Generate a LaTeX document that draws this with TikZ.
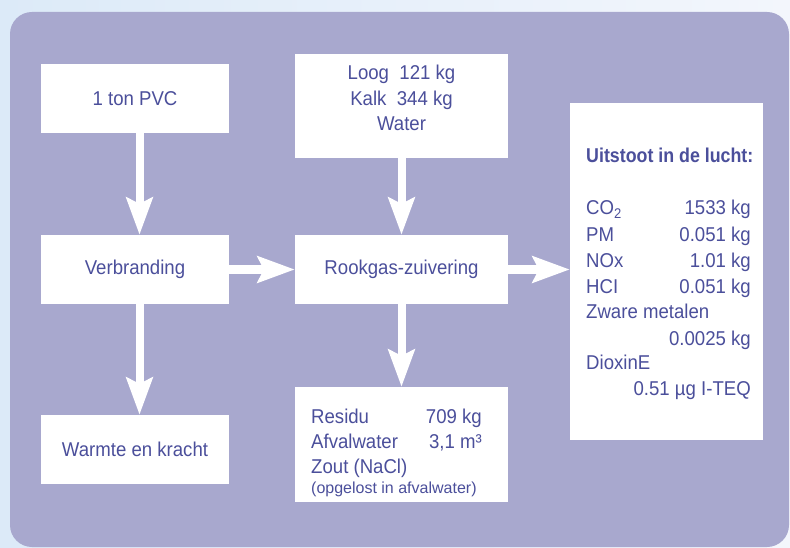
\documentclass[tikz,border=0pt]{standalone}
\usepackage{fontspec}
\setmainfont[FakeStretch=0.93]{Liberation Sans}
\newfontfamily\headfont[FakeStretch=0.89]{Liberation Sans}
\newfontfamily\smallfont[FakeStretch=1.0]{Liberation Sans}
\usetikzlibrary{arrows.meta}
\definecolor{bgL}{HTML}{DCEAF8}
\definecolor{bgR}{HTML}{F3F6FC}
\definecolor{panel}{HTML}{A8A8CE}
\definecolor{ink}{HTML}{4B4F9B}
\tikzset{
  box/.style={fill=white, draw=none, inner sep=0pt, text=ink, font=\fontsize{20}{25.5}\selectfont},
  txt/.style={inner sep=0pt, text=ink, font=\fontsize{20}{25.5}\selectfont},
  flow/.style={draw=white, line width=8pt, -{Stealth[length=37pt,width=26pt,inset=6pt]}}
}
\begin{document}
\begin{tikzpicture}[x=1pt,y=-1pt]
\useasboundingbox (0,0) rectangle (790,548);
\fill[left color=bgL, right color=bgR] (0,0) rectangle (790,548);
\fill[panel, rounded corners=22pt] (10,12) rectangle (789,547);

% boxes
\node[box, minimum width=188pt, minimum height=69pt] (pvc) at (135,98.5) {1 ton PVC};
\node[box, minimum width=188pt, minimum height=69pt] (verb) at (135,269.5) {Verbranding};
\node[box, minimum width=188pt, minimum height=69pt] (warm) at (135,449.5) {Warmte en kracht};
\node[box, minimum width=213pt, minimum height=104pt] (loog) at (401.5,106) {};
\node[box, minimum width=213pt, minimum height=69pt] (rook) at (401.5,269.5) {Rookgas-zuivering};
\node[box, minimum width=213pt, minimum height=115pt] (res) at (401.5,444.5) {};
\node[box, minimum width=193pt, minimum height=337pt] (uit) at (666.5,271.5) {};

% Loog box text
\node[txt, anchor=base] (l1) at (401.5,80) {Loog\ \ 121 kg};
\node[txt, anchor=base] (l2) at (401.5,106) {Kalk\ \ 344 kg};
\node[txt, anchor=base] (l3) at (401.5,131) {Water};

% Residu box text
\node[txt, anchor=base west] (r1) at (311,423) {Residu};
\node[txt, anchor=base east] (r1v) at (482,423) {709 kg};
\node[txt, anchor=base west] (r2) at (311,448) {Afvalwater};
\node[txt, anchor=base east] (r2v) at (482,448) {3,1 m³};
\node[txt, anchor=base west] (r3) at (311,473) {Zout (NaCl)};
\node[txt, anchor=base west, font=\smallfont\fontsize{16}{19}\selectfont] (r4) at (311,493) {(opgelost in afvalwater)};

% Uitstoot box text
\node[txt, anchor=base west, font=\headfont\bfseries\fontsize{20}{25.5}\selectfont] (u0) at (586,163) {Uitstoot in de lucht:};
\node[txt, anchor=base west] (u1) at (586,215) {CO\textsubscript{2}};
\node[txt, anchor=base east] (u1v) at (751,215) {1533 kg};
\node[txt, anchor=base west] (u2) at (586,242) {PM};
\node[txt, anchor=base east] (u2v) at (751,242) {0.051 kg};
\node[txt, anchor=base west] (u3) at (586,267) {NOx};
\node[txt, anchor=base east] (u3v) at (751,267) {1.01 kg};
\node[txt, anchor=base west] (u4) at (586,293) {HCI};
\node[txt, anchor=base east] (u4v) at (751,293) {0.051 kg};
\node[txt, anchor=base west] (u5) at (586,318) {Zware metalen};
\node[txt, anchor=base east] (u5v) at (751,345) {0.0025 kg};
\node[txt, anchor=base west] (u6) at (586,369) {DioxinE};
\node[txt, anchor=base east] (u6v) at (751,395) {0.51 µg I-TEQ};

% connectors
\draw[flow] ([xshift=4.5pt]pvc.south) -- ([xshift=4.5pt]verb.north);
\draw[flow] ([xshift=4.5pt]verb.south) -- ([xshift=4.5pt]warm.north);
\draw[flow] (loog.south) -- (rook.north);
\draw[flow] (rook.south) -- (res.north);
\draw[flow] (verb.east) -- (rook.west);
\draw[flow] (rook.east) -- (rook.east -| uit.west);
\end{tikzpicture}
\end{document}
